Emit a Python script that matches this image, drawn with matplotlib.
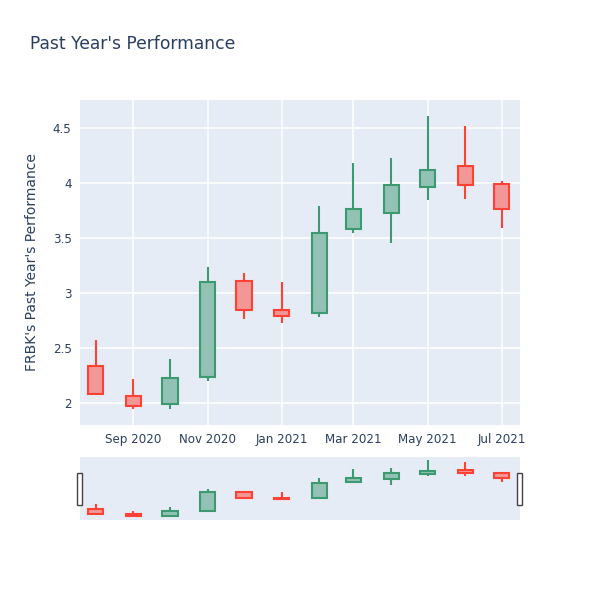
import matplotlib
matplotlib.use("Agg")
import matplotlib.pyplot as plt
import matplotlib.dates as mdates
import matplotlib.ticker as mtick
from matplotlib.patches import Rectangle
import pandas as pd

# monthly candles for FRBK
dates = ["2020-08-01", "2020-09-01", "2020-10-01", "2020-11-01", "2020-12-01", "2021-01-01",
         "2021-02-01", "2021-03-01", "2021-04-01", "2021-05-01", "2021-06-01", "2021-07-01"]
opens = [2.336, 2.064, 1.990, 2.239, 3.112, 2.845, 2.818, 3.582, 3.730, 3.961, 4.157, 3.988]
highs = [2.573, 2.218, 2.397, 3.239, 3.179, 3.100, 3.790, 4.185, 4.225, 4.609, 4.518, 4.018]
lows = [2.080, 1.945, 1.948, 2.197, 2.766, 2.725, 2.780, 3.543, 3.455, 3.845, 3.857, 3.594]
closes = [2.080, 1.973, 2.225, 3.103, 2.845, 2.791, 3.548, 3.766, 3.985, 4.118, 3.982, 3.761]

df = pd.DataFrame({"date": pd.to_datetime(dates), "open": opens, "high": highs,
                   "low": lows, "close": closes})

BG = "#E5ECF6"
TXT = "#2a3f5f"
UP_LINE, UP_FILL = "#3D9970", "#91C2B3"
DN_LINE, DN_FILL = "#FF4136", "#F29796"

fig = plt.figure(figsize=(6, 6), dpi=100)
ax = fig.add_axes([80 / 600, 175 / 600, 440 / 600, 325 / 600])
sl = fig.add_axes([80 / 600, 80 / 600, 440 / 600, 63 / 600])


def draw_candles(a, lw):
    up = df["close"] >= df["open"]
    for mask, line, fill in [(up, UP_LINE, UP_FILL), (~up, DN_LINE, DN_FILL)]:
        d = df[mask]
        a.vlines(d["date"], d["low"], d["high"], color=line, linewidth=lw, zorder=2)
        body = (d["close"] - d["open"]).abs()
        bottom = d[["open", "close"]].min(axis=1)
        a.bar(d["date"], body, bottom=bottom, width=12.5, facecolor=fill,
              edgecolor=line, linewidth=lw, zorder=3)


xmin = pd.Timestamp("2020-08-01") - pd.Timedelta(days=13)
xmax = pd.Timestamp("2021-07-01") + pd.Timedelta(days=15)

for a in (ax, sl):
    a.set_facecolor(BG)
    for s in a.spines.values():
        s.set_visible(False)
    a.set_xlim(xmin, xmax)
    a.set_ylim(1.8, 4.755)

draw_candles(ax, 1.5)
draw_candles(sl, 1.5)

ax.set_axisbelow(True)
ax.grid(True, color="white", linewidth=1.1)
ax.xaxis.set_major_locator(mdates.MonthLocator(bymonth=[1, 3, 5, 7, 9, 11]))
ax.xaxis.set_major_formatter(mdates.DateFormatter("%b %Y"))
ax.yaxis.set_major_locator(mtick.MultipleLocator(0.5))
ax.yaxis.set_major_formatter(mtick.FormatStrFormatter("%g"))
ax.tick_params(length=0, labelsize=8.6, labelcolor=TXT, pad=6)
ax.set_ylabel("FRBK's Past Year's Performance", fontsize=10, color=TXT, labelpad=10)

sl.set_xticks([])
sl.set_yticks([])

# range slider handles
for hx in (-0.007, 0.993):
    fig.add_artist(Rectangle((80 / 600 + hx * 440 / 600, 95 / 600), 5 / 600, 32 / 600,
                             transform=fig.transFigure, facecolor="white",
                             edgecolor="#444444", linewidth=1))

fig.text(30 / 600, 1 - 44 / 600, "Past Year's Performance", fontsize=12.3,
         color=TXT, va="center", ha="left")

fig.savefig("out.png", dpi=100)
